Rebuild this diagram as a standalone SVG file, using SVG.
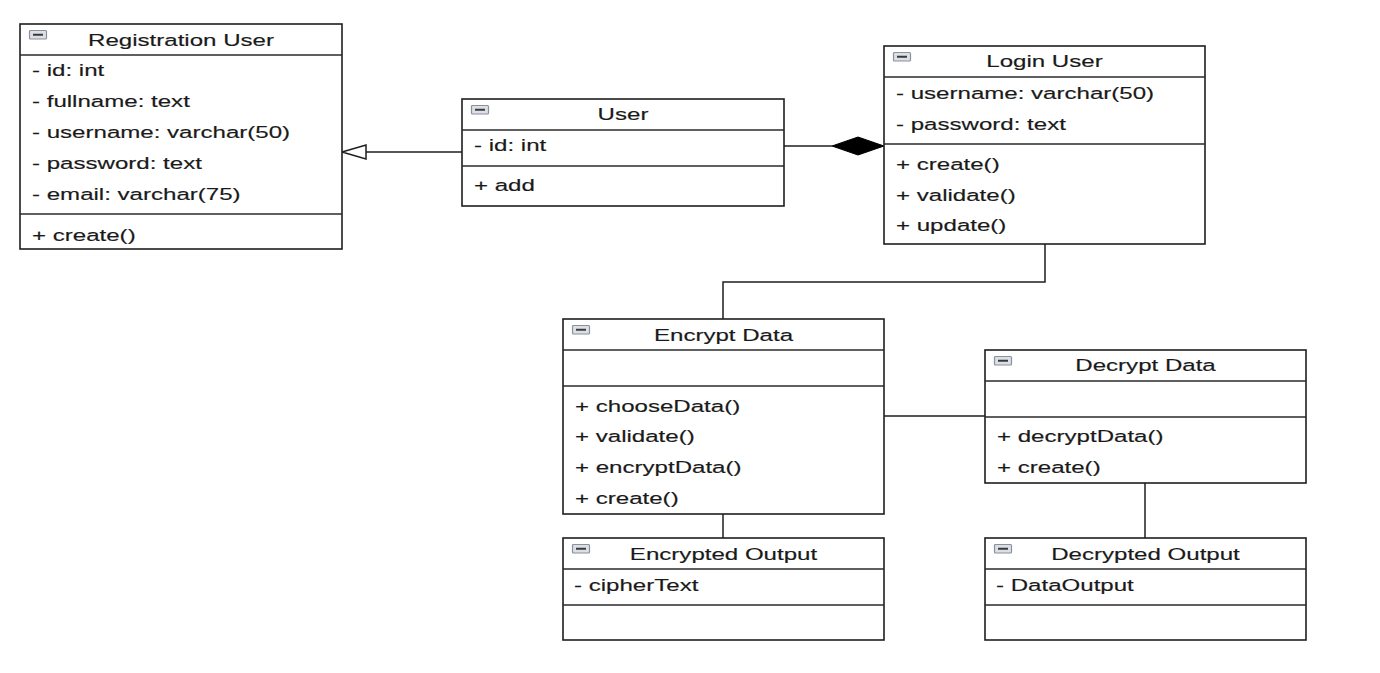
<svg xmlns="http://www.w3.org/2000/svg" width="1380" height="673" viewBox="0 0 1380 673">
  <style>
    .box { fill: #ffffff; stroke: #1e1e1e; stroke-width: 1.6; }
    .sep { stroke: #2a2a2a; stroke-width: 1.5; }
    .edge { fill: none; stroke: #1e1e1e; stroke-width: 1.5; }
    text { font-family: "Liberation Sans", Arial, sans-serif; font-size: 16.5px; fill: #1a1a1a; stroke: #1a1a1a; stroke-width: 0.15; }
    .title { text-anchor: middle; }
    .ico { fill: #dcdfe6; stroke: #8a909c; stroke-width: 1.2; }
    .bar { stroke: #3a3a3a; stroke-width: 2; }
  </style>
  <defs>
    <!-- collapse toggle shown at the top-left corner of every class box -->
    <g id="toggle">
      <rect class="ico" x="0.5" y="0.5" width="17" height="8.5" rx="1"/>
      <line class="bar" x1="4" y1="4.75" x2="14" y2="4.75"/>
    </g>
  </defs>
  <rect width="1380" height="673" fill="#ffffff"/>

  <!-- connectors -->
  <g id="connectors">
    <!-- User generalises Registration User -->
    <line class="edge" x1="462" y1="152" x2="366" y2="152"/>
    <polygon points="342,152 366,145 366,159" fill="#ffffff" stroke="#1e1e1e" stroke-width="1.5"/>
    <!-- User composed into Login User -->
    <line class="edge" x1="784" y1="146" x2="832" y2="146"/>
    <polygon points="832,146 858,137 884,146 858,155" fill="#000000" stroke="#000000" stroke-width="1"/>
    <!-- Login User to Encrypt Data -->
    <polyline class="edge" points="1045,244 1045,282 723,282 723,319"/>
    <!-- Encrypt Data to Decrypt Data -->
    <line class="edge" x1="884" y1="416" x2="985" y2="416"/>
    <!-- Encrypt Data to Encrypted Output -->
    <line class="edge" x1="723" y1="514" x2="723" y2="538"/>
    <!-- Decrypt Data to Decrypted Output -->
    <line class="edge" x1="1145" y1="483" x2="1145" y2="538"/>
  </g>

  <!-- Registration User -->
  <g id="registration-user">
    <rect class="box" x="20" y="24" width="322" height="225"/>
    <use href="#toggle" x="29" y="30"/>
    <line class="sep" x1="20" y1="55" x2="342" y2="55"/>
    <line class="sep" x1="20" y1="214" x2="342" y2="214"/>
    <text class="title" transform="translate(181 46) scale(1.46 1)">Registration User</text>
    <text transform="translate(32 76) scale(1.46 1)">- id: int</text>
    <text transform="translate(32 107) scale(1.46 1)">- fullname: text</text>
    <text transform="translate(32 138) scale(1.46 1)">- username: varchar(50)</text>
    <text transform="translate(32 169) scale(1.46 1)">- password: text</text>
    <text transform="translate(32 200) scale(1.46 1)">- email: varchar(75)</text>
    <text transform="translate(32 241) scale(1.46 1)">+ create()</text>
  </g>

  <!-- User -->
  <g id="user">
    <rect class="box" x="462" y="99" width="322" height="107"/>
    <use href="#toggle" x="471" y="105"/>
    <line class="sep" x1="462" y1="130" x2="784" y2="130"/>
    <line class="sep" x1="462" y1="166" x2="784" y2="166"/>
    <text class="title" transform="translate(623 120) scale(1.46 1)">User</text>
    <text transform="translate(474 151) scale(1.46 1)">- id: int</text>
    <text transform="translate(474 191) scale(1.46 1)">+ add</text>
  </g>

  <!-- Login User -->
  <g id="login-user">
    <rect class="box" x="884" y="46" width="321" height="198"/>
    <use href="#toggle" x="893" y="52"/>
    <line class="sep" x1="884" y1="77" x2="1205" y2="77"/>
    <line class="sep" x1="884" y1="144" x2="1205" y2="144"/>
    <text class="title" transform="translate(1044.5 67) scale(1.46 1)">Login User</text>
    <text transform="translate(896 99) scale(1.46 1)">- username: varchar(50)</text>
    <text transform="translate(896 130) scale(1.46 1)">- password: text</text>
    <text transform="translate(896 170) scale(1.46 1)">+ create()</text>
    <text transform="translate(896 201) scale(1.46 1)">+ validate()</text>
    <text transform="translate(896 231) scale(1.46 1)">+ update()</text>
  </g>

  <!-- Encrypt Data -->
  <g id="encrypt-data">
    <rect class="box" x="563" y="319" width="321" height="195"/>
    <use href="#toggle" x="572" y="325"/>
    <line class="sep" x1="563" y1="350" x2="884" y2="350"/>
    <line class="sep" x1="563" y1="386" x2="884" y2="386"/>
    <text class="title" transform="translate(723.5 341) scale(1.46 1)">Encrypt Data</text>
    <text transform="translate(575 412) scale(1.46 1)">+ chooseData()</text>
    <text transform="translate(575 442) scale(1.46 1)">+ validate()</text>
    <text transform="translate(575 473) scale(1.46 1)">+ encryptData()</text>
    <text transform="translate(575 504) scale(1.46 1)">+ create()</text>
  </g>

  <!-- Decrypt Data -->
  <g id="decrypt-data">
    <rect class="box" x="985" y="350" width="321" height="133"/>
    <use href="#toggle" x="994" y="356"/>
    <line class="sep" x1="985" y1="381" x2="1306" y2="381"/>
    <line class="sep" x1="985" y1="417" x2="1306" y2="417"/>
    <text class="title" transform="translate(1145.5 371) scale(1.46 1)">Decrypt Data</text>
    <text transform="translate(997 442) scale(1.46 1)">+ decryptData()</text>
    <text transform="translate(997 473) scale(1.46 1)">+ create()</text>
  </g>

  <!-- Encrypted Output -->
  <g id="encrypted-output">
    <rect class="box" x="563" y="538" width="321" height="102"/>
    <use href="#toggle" x="572" y="544"/>
    <line class="sep" x1="563" y1="569" x2="884" y2="569"/>
    <line class="sep" x1="563" y1="605" x2="884" y2="605"/>
    <text class="title" transform="translate(723.5 560) scale(1.46 1)">Encrypted Output</text>
    <text transform="translate(574 591) scale(1.46 1)">- cipherText</text>
  </g>

  <!-- Decrypted Output -->
  <g id="decrypted-output">
    <rect class="box" x="985" y="538" width="321" height="102"/>
    <use href="#toggle" x="994" y="544"/>
    <line class="sep" x1="985" y1="569" x2="1306" y2="569"/>
    <line class="sep" x1="985" y1="605" x2="1306" y2="605"/>
    <text class="title" transform="translate(1145.5 560) scale(1.46 1)">Decrypted Output</text>
    <text transform="translate(996 591) scale(1.46 1)">- DataOutput</text>
  </g>
</svg>
